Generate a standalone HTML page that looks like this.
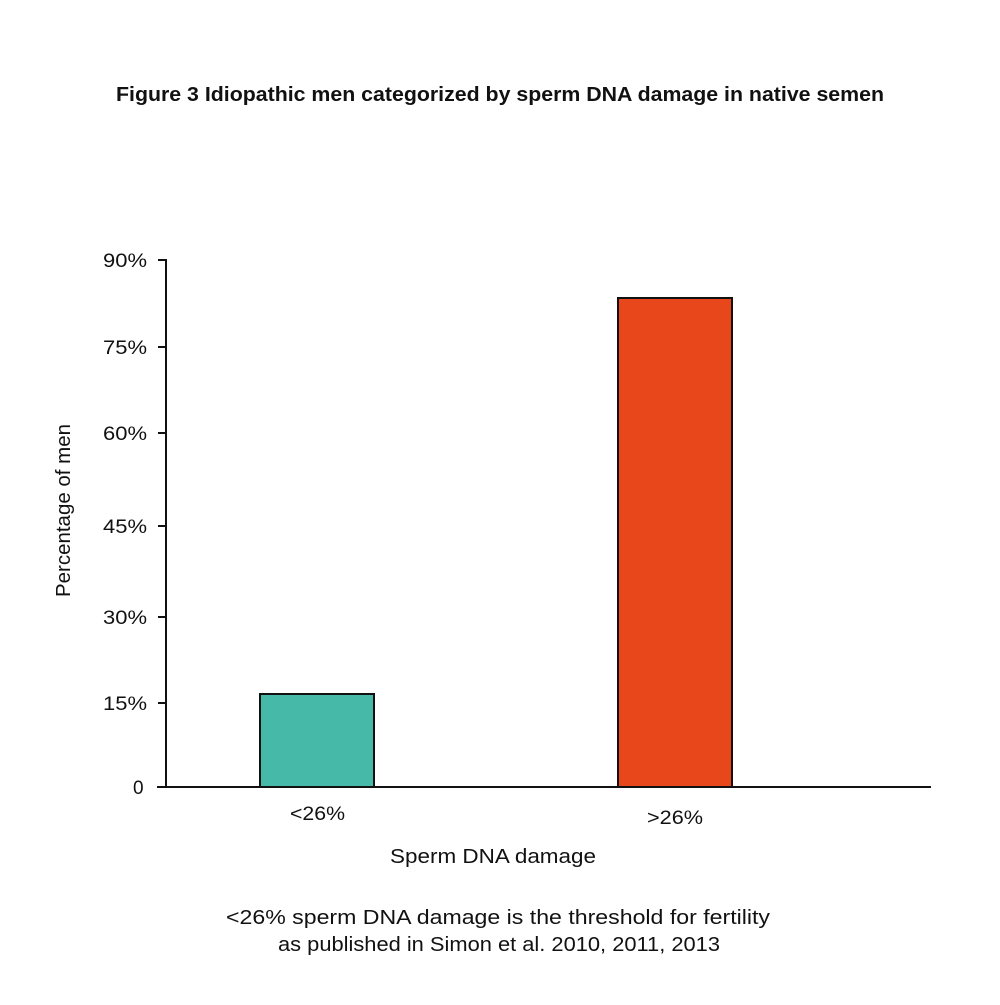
<!DOCTYPE html>
<html><head><meta charset="utf-8"><style>
html,body{margin:0;padding:0;background:#fff;}
svg text{font-family:"Liberation Sans",sans-serif;fill:#111;}
</style></head><body>
<svg width="1000" height="1000" viewBox="0 0 1000 1000" xmlns="http://www.w3.org/2000/svg">
<rect width="1000" height="1000" fill="#fff"/>
<text x="116" y="101" font-size="20" font-weight="bold" textLength="768" lengthAdjust="spacingAndGlyphs">Figure 3 Idiopathic men categorized by sperm DNA damage in native semen</text>
<rect x="260" y="694" width="114" height="93" fill="#46b9a8" stroke="#111" stroke-width="2"/>
<rect x="618" y="298" width="114" height="489" fill="#e8471b" stroke="#111" stroke-width="2"/>
<g stroke="#111" stroke-width="2" fill="none">
<line x1="166" y1="259" x2="166" y2="788"/>
<line x1="157" y1="787" x2="931" y2="787"/>
<line x1="158" y1="260" x2="166" y2="260"/>
<line x1="158" y1="347" x2="166" y2="347"/>
<line x1="158" y1="433" x2="166" y2="433"/>
<line x1="158" y1="526" x2="166" y2="526"/>
<line x1="158" y1="617" x2="166" y2="617"/>
<line x1="158" y1="703" x2="166" y2="703"/>
</g>
<g font-size="19">
<text x="103" y="267" textLength="44" lengthAdjust="spacingAndGlyphs">90%</text>
<text x="103" y="354" textLength="44" lengthAdjust="spacingAndGlyphs">75%</text>
<text x="103" y="440" textLength="44" lengthAdjust="spacingAndGlyphs">60%</text>
<text x="103" y="533" textLength="44" lengthAdjust="spacingAndGlyphs">45%</text>
<text x="103" y="624" textLength="44" lengthAdjust="spacingAndGlyphs">30%</text>
<text x="103" y="710" textLength="44" lengthAdjust="spacingAndGlyphs">15%</text>
<text x="133" y="794">0</text>
</g>
<text x="290" y="820" font-size="19" textLength="55" lengthAdjust="spacingAndGlyphs">&lt;26%</text>
<text x="647" y="824" font-size="19" textLength="56" lengthAdjust="spacingAndGlyphs">&gt;26%</text>
<text x="390" y="863" font-size="20" textLength="206" lengthAdjust="spacingAndGlyphs">Sperm DNA damage</text>
<text transform="translate(70,597) rotate(-90)" font-size="20" textLength="173" lengthAdjust="spacingAndGlyphs">Percentage of men</text>
<text x="226" y="924" font-size="20" textLength="544" lengthAdjust="spacingAndGlyphs">&lt;26% sperm DNA damage is the threshold for fertility</text>
<text x="278" y="951" font-size="20" textLength="442" lengthAdjust="spacingAndGlyphs">as published in Simon et al. 2010, 2011, 2013</text>
</svg>
</body></html>
